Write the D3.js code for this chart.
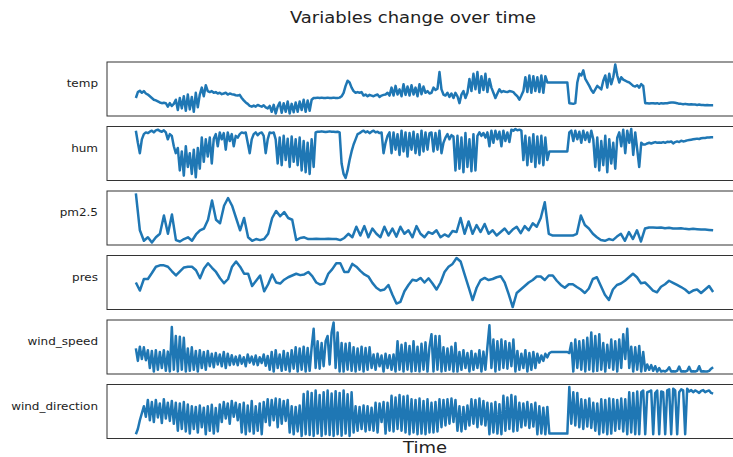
<!DOCTYPE html>
<html>
<head>
<meta charset="utf-8">
<script src="https://cdn.jsdelivr.net/npm/d3@7"></script>
<style>
body { margin: 0; background: #fff; }
svg { display: block; font-family: "DejaVu Sans", sans-serif; }
</style>
</head>
<body>
<svg id="chart" width="733" height="457"></svg>
<script>
// panel names, top to bottom
var names = ["temp", "hum", "pm2.5", "pres", "wind_speed", "wind_direction"];

// readings (relative level, no axis ticks shown)
var temp = [55,72,76,70,75,68,65, 60,55,50,48,45,42,40,41,40, 30,40,32,38,
  50,20,55,25,60,18,65,22,58,15,70,28,65, 85,60,92,75, 72,75,70,72, 68,70,66,68,70,65,68,66,65, 63,62,64,
  55,48,42,38,32,30, 33,30,35,32,30,34, 28,25,32, 15,35,10,30, 42,12,40,15,45,10,38,14,42,15,45,
  20,50,15,48,18,50,55, 55,56,55,56,55,55,56,55,55,56,55,55,56,60, 70,90,105,100,85,75,70,72,70,72,
  62,65,60,64,62,60,63,65,58,62,64,65, 70,62, 85,62,90,65,80,60,95,64,88,62,92,65,85,60,95,66,88,70,75,68,
  70,85,78,82, 130, 80,65,62,70, 58,68,55,70,60,40, 65,75,55,70, 110,75,125,80,130,70,118,78,125,72,
  110,85,70, 55,68,80, 72,75,73,72,75,74,72, 65,60,50,62, 75, 115,72,120,70,118,75,115,72,120,70,118,100,
  100,100,100,100,100,100,100,100,100,100, 40,39,38,40, 100,125,120,135, 110,100,90,78,70,80,90,85,80,105,
  120,85,125,95,115,152,120,100, 115,108,105,102,100,95,90,88,92,85,95,90,
  40,40,39,40,40,39,40,38,40,39, 40,40,41,42,42,41,40,38,38,37, 38,37,36,37,36,36,35,36,35,35, 34,35,34,34,34];

var hum = [145,110,80,120,135,140,138, 142,145,140,146,148,144,142,146,140,120, 135,130, 100,80,
  95,30,85,15,100,40,80,20,90,10,95,35, 125,55,120,70,125,50,122, 135,100,140,120,138,90,140,115,135,100,
  130,125,135, 140,138,140,110,80,120, 135,140,132,138,140,130, 80,120, 140,138,140,
  120,50,125,45,130,60,122,40,128,55,120,45,125, 30,115,25,110,20,120,40,
  140,142,142,143,142,141,142,143,142,142,141,142,140, 50,20,8,30,60,85,105,120,135,
  138,142,145,140,143,138,142,145,140,142,138,140, 80,110,130,140,
  80,140,90,135,75,145,85,140,70,138,90,142,80,135,75,145,85,140,90,138,
  140,85,138,90, 145, 80,110,125, 135,120,132,128, 30,130,35,125,25,138,40,120,28,135,30,130,
  140,130,138,125,140, 100, 145,110,145,120,142,100,145,115,140,112, 148,145,150,146,148,145,
  60,130,45,125,55,135,40,128,50,130,45,125,60, 85,85,85,85,85,85,85,85,85,85,
  140,145,115,145,120,142,110,145,118,140,112,145,120, 40,125,30,115,45,130,25,120,50,110,35,125,
  140,100,148,80,145,110,150,75,140,90, 40, 110,105,
  105,108,110,108,110,112,110,111,110,112, 110,113,112,114,108,112,114,112,116,114,
  115,117,118,119,120,121,122,121,123,124, 124,125,125,126,126];

var pm25 = [155,50,20,30,15,30,40,92,40,95, 22,18,25,30,20,38,50,55,80,135, 80,70,120,142,120,85,50,85,30,20,
  25,22,25,40,85,105,90,102,85,80, 22,28,30,25,25,26,25,25,26,25, 25,22,28,40,30,60,35,62,30,55,
  40,30,60,35,55,32,60,40,50,30, 62,40,30,45,
  40,50,30,38,32,48,45,85,40,75, 40,65,45,68,40,50,35,45,55,40, 52,60,42,62,50,70,60,85,130,40,
  35,35,35,35,35,35,40,92,65,55, 40,30,22,20,25,22,32,40,20,45, 25,50,18,55,58,58,57,58,56,57,
  55,55,56,54,53,54,53,52,52,51, 50];

var pres = [85,62,95,95,112,130,134,134,130,117, 105,117,128,130,130,120,97,125,140,127, 115,97,83,95,130,145,130,110,110,75,
  90,105,60,80,108,85,82,93,100,105, 110,106,108,115,103,85,79,82,110,123, 140,140,115,115,138,130,118,108,102,84,
  70,62,65,78,50,25,30,60,78,93, 90,98,85,97,
  82,65,85,115,130,138,155,145,108,72, 35,70,92,98,92,95,100,103,85,52, 15,55,65,75,85,92,102,102,92,105,
  105,90,78,70,80,80,72,65,55,68, 95,100,75,50,35,65,78,82,90,100, 110,100,83,85,74,62,57,73,80,90,
  84,78,72,65,55,62,65,55,65,75, 58];

var windSpeed = [85,50,90,55,88,52,80, 30,78,20,80,25,75,30,80,22,76, 20,145,25, 120,20,118,25, 115,
  20,85,22,88, 25,78,20,80,30,75,25,78, 35,70,32,72,40,68,35,75,30,70,38,66,40,
  62,38,65,42,60,35,68,45,62,40,65,38,60,44,68,36,64, 25,75,20,80,30,68,22,78,25,72,20,80,28,
  88,20,85,25,90,20,86,22,88, 140, 30,105,28,100,35,105, 120, 40,130, 158, 30,130,20,
  100,20,98,25,100, 22,88,20,85,25,90,20,86,25,88, 30,68,25,70,35,65,20,70,30,66,25,68,20, 105,
  25,95,20,100,25,92,20,105,22,90,20,98,25,102,20,90,
  125,20,120,25, 120, 20,88,22,85,25,90,20,100, 20,75,25,80,30,72,20,78,25,70,30,80,20,76,25,90, 150,
  30,110,20,105,25,110, 30,105,28,100,35,110, 20,78,25,70,30,80,20,72,25,75,30,70, 45,65,50,70,60,72,
  75,75,75,75,75,75,75,75,75,72, 100,20,110,30,105,25,108, 20,115,25,130,20,120,22,125,
  25,100,20,95,30,110,25,105,20,110, 30,125,55,140, 30,90,20,88,25,92,20,75, 22,40,25,38,22,35,20,30,
  20,22,20,24,32,20,21,20,22,34,20,21,20,22,33,20,21,20,22,35,20,21,20,20,22,28,32];

var windDirection = [20,35,60,80,100,70,118, 60,112,55,118,68,108,52,120,65,110,58,115,50, 110,30,108,35,112,28,105,
  22,100,35,98,25,102,40,96,20,100,30,104,22, 95,28,105, 55,112,65,108,50,115,70,110,60,106,
  25,110,20,102,28,115,22,100,30,108,20,112, 55,120,45,118,60,122,40,120,50,115,58,118, 25,100,20,98,28,102,
  15,135,20,142,18,138,15,145,22,132,15,140,20,145,18,136,15,143,20,138,16,145,22,134,15,140,25,
  100,30,98,35,102,28,100,32,96,30, 110,25,108,55,112,22,110, 30,130,28,125,35,132,30,128,25,130,
  20,120,25,118,20,122,22,115,20,120,25,
  110,25,112,28, 120,40,118,45, 120,50,122,55,118, 30,100,28,98,35,102, 45,120,50,118,40,122,48,115,45,
  110,20,108,25,112,22,106,20, 130,30,125,35,132,28,128,30, 110,40,108,45,112,38,106,42,110, 20,100,22,96,20,98,
  22,22,22,22,22,22,22,22,22,22, 155, 50,140,45,138, 40,120,35,118,42,122,38, 110,30,108,
  20,120,25,118,20,122,22, 120,30,118,35,122,28,120, 20,140,25,138,20,142,
  20,140,145,20,140,142,145,20,138,145,20,142,140,20,145,148,20,150,145,20,140,148,145,20,150,142,146,
  140,145,142,138,144,146,140,143,145,138,136];

var series = [temp, hum, pm25, pres, windSpeed, windDirection];

var svg = d3.select("#chart");
var left = 107, right = 742;
var panelH = 54, firstTop = 62, panelStep = 64.5;
var stretch = 1.2; // the source picture is widened, text included

function addText(x, y, size, anchor, str) {
  return svg.append("text")
    .attr("transform", "translate(" + x + "," + y + ") scale(" + stretch + ",1)")
    .attr("text-anchor", anchor)
    .style("font-size", size + "px")
    .style("fill", "#222")
    .text(str);
}

addText(413, 23, 15, "middle", "Variables change over time");

names.forEach(function(name, i) {
  var values = series[i];
  var n = values.length - 1;
  var top = firstTop + i * panelStep;

  // matplotlib style 5% margins on both axes
  var x = d3.scaleLinear().domain([-0.05 * n, 1.05 * n]).range([left, right]);
  var ext = d3.extent(values), pad = (ext[1] - ext[0]) * 0.05;
  var y = d3.scaleLinear().domain([ext[0] - pad, ext[1] + pad]).range([top + panelH, top]);

  var g = svg.append("g").attr("class", "panel");

  var line = d3.line()
    .x(function(d, j) { return x(j); })
    .y(function(d) { return y(d); });

  g.append("path")
    .datum(values)
    .attr("d", line)
    .attr("fill", "none")
    .attr("stroke", "#1f77b4")
    .attr("stroke-width", 2.5)
    .attr("stroke-linejoin", "round");

  g.append("rect")
    .attr("x", left)
    .attr("y", top)
    .attr("width", right - left)
    .attr("height", panelH)
    .attr("fill", "none")
    .attr("stroke", "#333")
    .attr("stroke-width", 1);

  addText(98, top + 25, 10, "end", name);
});

addText(425, 453, 15, "middle", "Time");
</script>
</body>
</html>
